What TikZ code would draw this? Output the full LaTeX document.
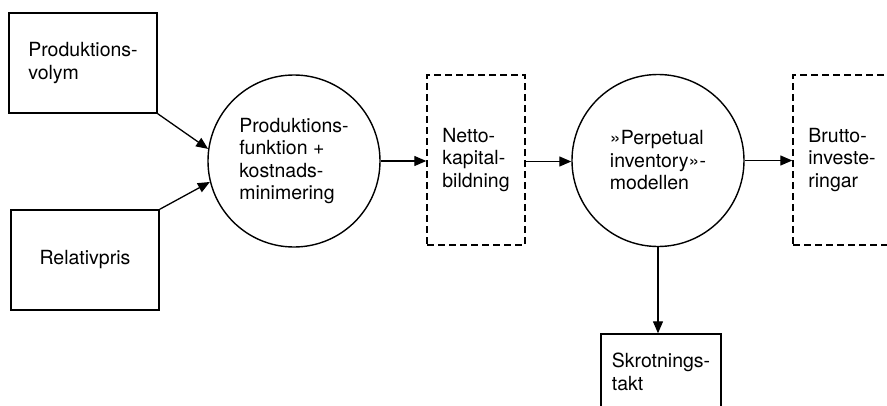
\documentclass[tikz,border=0pt]{standalone}
\usepackage{fontspec}
\setmainfont{TeX Gyre Heros}
\usetikzlibrary{arrows.meta}
\begin{document}
\begin{tikzpicture}[x=1pt,y=-1pt,
  txt/.style={font=\fontsize{19.5}{22.5}\selectfont, align=left, inner sep=0pt},
  solidbox/.style={draw, line width=1.4pt, txt},
  dashbox/.style={draw, line width=1.4pt, dash pattern=on 7pt off 4pt, txt},
  proc/.style={draw, circle, line width=1.4pt, minimum size=172pt, txt},
  conn/.style={line width=1.3pt, -{Triangle[length=12pt,width=10pt]}}]
\clip (0,0) rectangle (887,405);
\node[solidbox, minimum width=148pt, minimum height=100pt] (pv) at (83,63) {Produktions-\\volym};
\node[solidbox, minimum width=148pt, minimum height=100pt] (rp) at (85,260) {Relativpris};
\node[proc] (c1) at (294,161) {Produktions-\\funktion +\\kostnads-\\minimering};
\node[dashbox, minimum width=98pt, minimum height=170pt] (nk) at (476,160) {Netto-\\kapital-\\bildning};
\node[proc] (c2) at (658,160.5) {»Perpetual\\inventory»-\\modellen};
\node[dashbox, minimum width=98pt, minimum height=170pt] (bi) at (842,160) {Brutto-\\investe-\\ringar};
\node[solidbox, minimum width=120pt, minimum height=76pt] (sk) at (661,372) {Skrotnings-\\takt};
\draw[conn] (pv.south east) -- (c1.172.6);
\draw[conn] (rp.north east) -- (c1.194.7);
\draw[conn] (c1.east) -- (c1.east -| nk.west);
\draw[conn] (nk.east |- 0,161.5) -- (c2.west |- 0,161.5);
\draw[conn] (c2.east) -- (c2.east -| bi.west);
\draw[conn] (c2.south) -- (c2.south |- sk.north);
\end{tikzpicture}
\end{document}
